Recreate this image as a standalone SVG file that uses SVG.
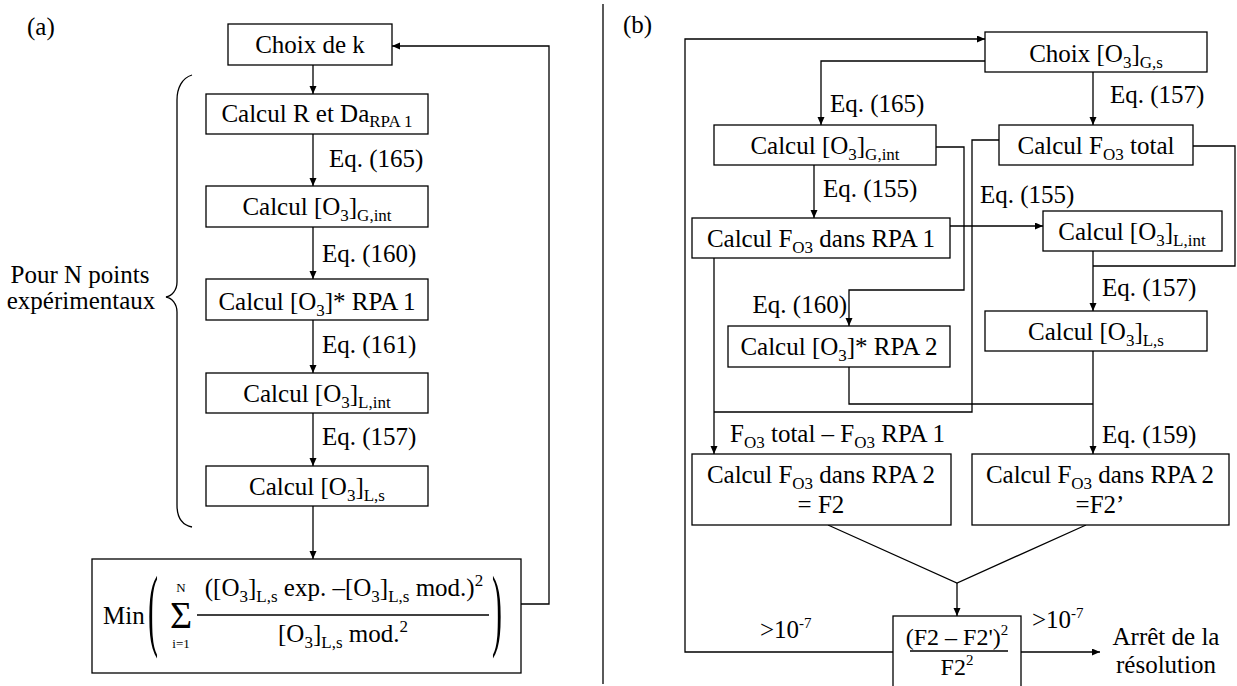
<svg xmlns="http://www.w3.org/2000/svg" width="1237" height="686" viewBox="0 0 1237 686">
<style>
text{font-family:"Liberation Serif","Times New Roman",serif;font-size:25px;fill:#000}
.m{text-anchor:middle}
.e{text-anchor:end}
.sb{font-size:17px}
.sp{font-size:15px}
.box{fill:#fff;stroke:#000;stroke-width:1.3}
.ln{fill:none;stroke:#000;stroke-width:1.3}
.ar{fill:none;stroke:#000;stroke-width:1.3;marker-end:url(#ah)}
</style>
<defs>
<marker id="ah" markerWidth="9" markerHeight="8" refX="8" refY="3.5" orient="auto" markerUnits="userSpaceOnUse"><path d="M0,0 L8,3.5 L0,7 z" fill="#000"/></marker>
</defs>
<rect width="1237" height="686" fill="#fff"/>

<!-- divider -->
<line x1="603" y1="4" x2="603" y2="684" class="ln"/>

<text x="27" y="35">(a)</text>
<text x="623" y="33">(b)</text>

<g id="connectors">
  <!-- panel a -->
  <line x1="313" y1="65" x2="313" y2="94" class="ar"/>
  <line x1="313" y1="134" x2="313" y2="186" class="ar"/>
  <line x1="313" y1="227" x2="313" y2="279" class="ar"/>
  <line x1="313" y1="320" x2="313" y2="373" class="ar"/>
  <line x1="313" y1="413" x2="313" y2="466" class="ar"/>
  <line x1="313" y1="506" x2="313" y2="559" class="ar"/>
  <polyline points="521,604 549,604 549,46 392,46" class="ar"/>
  <path d="M192,75 C182,78 177,88 177,100 L177,282 C177,290 172,296 166,297 C172,298 177,304 177,312 L177,505 C177,517 182,525 192,527" class="ln"/>
  <!-- panel b -->
  <polyline points="893,652 685,652 685,39 985,39" class="ar"/>
  <polyline points="985,61 821,61 821,125" class="ar"/>
  <line x1="1093" y1="72" x2="1093" y2="125" class="ar"/>
  <line x1="814" y1="165" x2="814" y2="218" class="ar"/>
  <line x1="950" y1="226" x2="1043" y2="226" class="ar"/>
  <polyline points="936,147 964,147 964,290 849,290 849,326" class="ar"/>
  <polyline points="999,140 972,140 972,412 714,412" class="ln"/>
  <polyline points="1193,146 1235,146 1235,266 1093,266" class="ln"/>
  <line x1="1093" y1="251" x2="1093" y2="311" class="ar"/>
  <polyline points="849,367 849,404 1093,404" class="ln"/>
  <line x1="714" y1="258" x2="714" y2="454" class="ar"/>
  <line x1="1093" y1="351" x2="1093" y2="454" class="ar"/>
  <polyline points="828,525 957,583 1086,525" class="ln"/>
  <line x1="957" y1="583" x2="957" y2="616" class="ar"/>
  <line x1="1021" y1="652" x2="1100" y2="652" class="ar"/>
</g>

<!-- panel a nodes -->
<g id="a-choix">
  <rect x="228" y="24" width="164" height="41" class="box"/>
  <text x="310" y="53" class="m">Choix de k</text>
</g>
<g id="a-calcR">
  <rect x="206" y="94" width="222" height="40" class="box"/>
  <text x="317" y="122" class="m">Calcul R et Da<tspan class="sb" dy="5">RPA 1</tspan></text>
</g>
<text x="329" y="167">Eq. (165)</text>
<g id="a-gint">
  <rect x="206" y="186" width="222" height="41" class="box"/>
  <text x="317" y="215" class="m">Calcul [O<tspan class="sb" dy="6">3</tspan><tspan dy="-6">]</tspan><tspan class="sb" dy="6">G,int</tspan></text>
</g>
<text x="322" y="262">Eq. (160)</text>
<g id="a-star1">
  <rect x="206" y="279" width="222" height="41" class="box"/>
  <text x="317" y="310" class="m">Calcul [O<tspan class="sb" dy="6">3</tspan><tspan dy="-6">]* RPA 1</tspan></text>
</g>
<text x="322" y="353">Eq. (161)</text>
<g id="a-lint">
  <rect x="206" y="373" width="222" height="40" class="box"/>
  <text x="317" y="402" class="m">Calcul [O<tspan class="sb" dy="6">3</tspan><tspan dy="-6">]</tspan><tspan class="sb" dy="6">L,int</tspan></text>
</g>
<text x="322" y="445">Eq. (157)</text>
<g id="a-ls">
  <rect x="206" y="466" width="222" height="40" class="box"/>
  <text x="317" y="495" class="m">Calcul [O<tspan class="sb" dy="6">3</tspan><tspan dy="-6">]</tspan><tspan class="sb" dy="6">L,s</tspan></text>
</g>
<g id="a-pour">
  <text x="80" y="283" class="m">Pour N points</text>
  <text x="81" y="309" class="m">expérimentaux</text>
</g>
<g id="a-min">
  <rect x="92" y="559" width="429" height="114" class="box"/>
  <text x="103" y="624">Min</text>
  <text transform="translate(148,639) scale(1,3.05)" style="font-size:30px">(</text>
  <text transform="translate(492,639) scale(1,3.05)" style="font-size:30px">)</text>
  <text x="181" y="628" class="m" style="font-size:38px">Σ</text>
  <text x="181" y="592" class="m" style="font-size:13px">N</text>
  <text x="181" y="648" class="m" style="font-size:13px">i=1</text>
  <text x="344" y="596" class="m">([O<tspan class="sb" dy="6">3</tspan><tspan dy="-6">]</tspan><tspan class="sb" dy="6">L,s</tspan><tspan dy="-6"> exp. –[O</tspan><tspan class="sb" dy="6">3</tspan><tspan dy="-6">]</tspan><tspan class="sb" dy="6">L,s</tspan><tspan dy="-6"> mod.)</tspan><tspan class="sb" dy="-10">2</tspan></text>
  <line x1="197" y1="615" x2="489" y2="615" class="ln"/>
  <text x="343" y="642" class="m">[O<tspan class="sb" dy="6">3</tspan><tspan dy="-6">]</tspan><tspan class="sb" dy="6">L,s</tspan><tspan dy="-6"> mod.</tspan><tspan class="sb" dy="-10">2</tspan></text>
</g>

<!-- panel b nodes -->
<g id="b-choix">
  <rect x="985" y="32" width="222" height="40" class="box"/>
  <text x="1096" y="62" class="m">Choix [O<tspan class="sb" dy="6">3</tspan><tspan dy="-6">]</tspan><tspan class="sb" dy="6">G,s</tspan></text>
</g>
<text x="830" y="112">Eq. (165)</text>
<text x="1110" y="103">Eq. (157)</text>
<g id="b-gint">
  <rect x="714" y="125" width="222" height="40" class="box"/>
  <text x="825" y="154" class="m">Calcul [O<tspan class="sb" dy="6">3</tspan><tspan dy="-6">]</tspan><tspan class="sb" dy="6">G,int</tspan></text>
</g>
<g id="b-ftot">
  <rect x="999" y="125" width="194" height="40" class="box"/>
  <text x="1096" y="154" class="m">Calcul F<tspan class="sb" dy="6">O3</tspan><tspan dy="-6"> total</tspan></text>
</g>
<text x="823" y="197">Eq. (155)</text>
<text x="980" y="203">Eq. (155)</text>
<g id="b-frpa1">
  <rect x="692" y="218" width="258" height="40" class="box"/>
  <text x="821" y="247" class="m">Calcul F<tspan class="sb" dy="6">O3</tspan><tspan dy="-6"> dans RPA 1</tspan></text>
</g>
<g id="b-lint">
  <rect x="1043" y="211" width="179" height="40" class="box"/>
  <text x="1132" y="240" class="m">Calcul [O<tspan class="sb" dy="6">3</tspan><tspan dy="-6">]</tspan><tspan class="sb" dy="6">L,int</tspan></text>
</g>
<text x="1102" y="296">Eq. (157)</text>
<text x="847" y="313" class="e">Eq. (160)</text>
<g id="b-ls">
  <rect x="985" y="311" width="222" height="40" class="box"/>
  <text x="1096" y="340" class="m">Calcul [O<tspan class="sb" dy="6">3</tspan><tspan dy="-6">]</tspan><tspan class="sb" dy="6">L,s</tspan></text>
</g>
<g id="b-star2">
  <rect x="728" y="326" width="222" height="41" class="box"/>
  <text x="839" y="355" class="m">Calcul [O<tspan class="sb" dy="6">3</tspan><tspan dy="-6">]* RPA 2</tspan></text>
</g>
<text x="730" y="442">F<tspan class="sb" dy="6">O3</tspan><tspan dy="-6"> total – F</tspan><tspan class="sb" dy="6">O3</tspan><tspan dy="-6"> RPA 1</tspan></text>
<text x="1102" y="443">Eq. (159)</text>
<g id="b-f2">
  <rect x="692" y="454" width="259" height="71" class="box"/>
  <text x="821" y="483" class="m">Calcul F<tspan class="sb" dy="6">O3</tspan><tspan dy="-6"> dans RPA 2</tspan></text>
  <text x="821" y="513" class="m">= F2</text>
</g>
<g id="b-f2p">
  <rect x="972" y="454" width="257" height="71" class="box"/>
  <text x="1100" y="483" class="m">Calcul F<tspan class="sb" dy="6">O3</tspan><tspan dy="-6"> dans RPA 2</tspan></text>
  <text x="1100" y="513" class="m">=F2’</text>
</g>
<g id="b-crit">
  <rect x="893" y="616" width="128" height="80" class="box"/>
  <text x="957" y="645" class="m" style="font-size:24px">(F2 – F2')<tspan class="sp" dy="-10">2</tspan></text>
  <line x1="910" y1="651" x2="1008" y2="651" class="ln"/>
  <text x="957" y="675" class="m" style="font-size:24px">F2<tspan class="sp" dy="-10">2</tspan></text>
</g>
<text x="760" y="638">&gt;10<tspan class="sp" dy="-10">-7</tspan></text>
<text x="1032" y="628">&gt;10<tspan class="sp" dy="-10">-7</tspan></text>
<g id="b-stop">
  <text x="1166" y="645" class="m">Arrêt de la</text>
  <text x="1166" y="673" class="m">résolution</text>
</g>
</svg>
